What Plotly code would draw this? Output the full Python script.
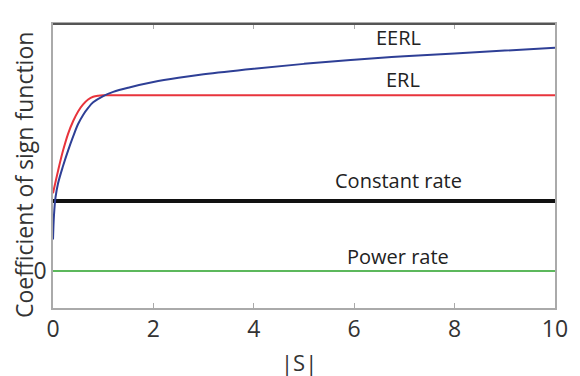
import plotly.graph_objects as go

# Data
s_eerl = [0, 0.02, 0.05, 0.1, 0.2, 0.3, 0.4, 0.5, 0.6, 0.7, 0.8, 1.0, 1.2, 1.5, 2, 2.5, 3, 4, 5, 6, 7, 8, 9, 10]
eerl = [0.45, 0.8, 1.05, 1.25, 1.5, 1.72, 1.92, 2.1, 2.23, 2.33, 2.41, 2.5, 2.56, 2.62, 2.7, 2.76, 2.81, 2.89, 2.96, 3.02, 3.07, 3.11, 3.15, 3.19]

s_erl = [0, 0.1, 0.2, 0.3, 0.4, 0.5, 0.6, 0.7, 0.8, 0.9, 1.0, 10]
erl = [1.11, 1.43, 1.72, 1.96, 2.14, 2.28, 2.38, 2.45, 2.49, 2.505, 2.51, 2.51]

s_flat = [0, 10]
constant_rate = [1.0, 1.0]
power_rate = [0.0, 0.0]

x_ticks = [0, 2, 4, 6, 8, 10]
y_ticks = [0]
y_ticktext = ["0"]

labels = ["EERL", "ERL", "Constant rate", "Power rate"]
label_x = [6.88, 6.97, 6.88, 6.88]
label_y = [3.34, 2.73, 1.29, 0.2]

FONT = "Open Sans, sans-serif"

fig = go.Figure()
fig.add_trace(go.Scatter(x=s_flat, y=power_rate, mode="lines",
                         line=dict(color="#5cb85c", width=2), name="Power rate"))
fig.add_trace(go.Scatter(x=s_flat, y=constant_rate, mode="lines",
                         line=dict(color="#111111", width=4), name="Constant rate"))
fig.add_trace(go.Scatter(x=s_erl, y=erl, mode="lines", line_shape="spline",
                         line=dict(color="#e8343c", width=2), name="ERL"))
fig.add_trace(go.Scatter(x=s_eerl, y=eerl, mode="lines", line_shape="spline",
                         line=dict(color="#2e3f96", width=2), name="EERL"))

for t, x, y in zip(labels, label_x, label_y):
    fig.add_annotation(x=x, y=y, text=t, showarrow=False,
                       font=dict(family=FONT, size=20, color="#222222"))

fig.add_annotation(xref="paper", yref="paper", x=-0.058, y=0.468, text="Coefficient of sign function",
                   textangle=-90, showarrow=False, xanchor="center", yanchor="middle",
                   font=dict(family=FONT, size=23, color="#333333"))
fig.add_annotation(xref="paper", yref="paper", x=0.49, y=-0.19, text="|S|",
                   showarrow=False, xanchor="center", yanchor="middle",
                   font=dict(family=FONT, size=22, color="#333333"))

fig.add_shape(type="line", xref="paper", yref="paper", x0=0, x1=1, y0=1, y1=1,
              line=dict(color="#555555", width=2))

fig.update_layout(
    width=572, height=368,
    margin=dict(l=45, r=18, t=16, b=68),
    paper_bgcolor="white", plot_bgcolor="white",
    showlegend=False,
)
fig.update_xaxes(range=[0, 10], tickvals=x_ticks, ticks="inside", ticklen=5,
                 tickcolor="#aaaaaa", showline=True, linecolor="#aaaaaa", linewidth=1.5,
                 mirror="ticks", showgrid=False, zeroline=False,
                 tickfont=dict(family=FONT, size=23, color="#333333"))
fig.update_yaxes(range=[-0.53, 3.53], tickvals=y_ticks, ticktext=y_ticktext, ticks="",
                 showline=True, linecolor="#aaaaaa", linewidth=1.5, mirror=True,
                 showgrid=False, zeroline=False,
                 tickfont=dict(family=FONT, size=23, color="#333333"))

fig.write_html("out.html")
